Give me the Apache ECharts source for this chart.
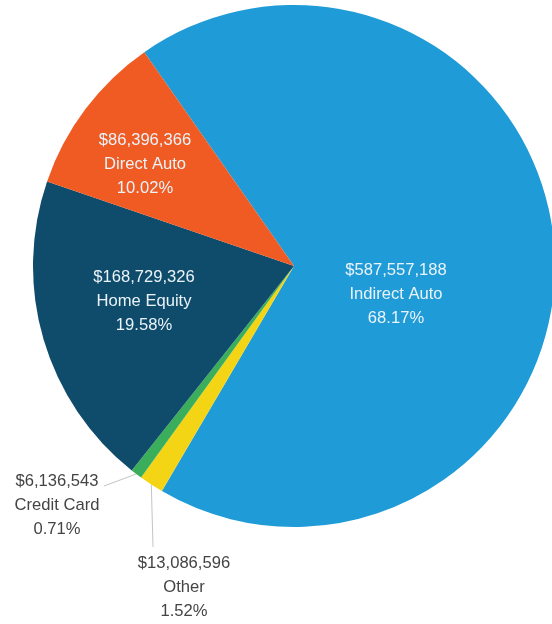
<!DOCTYPE html>
<html>
<head>
<meta charset="utf-8">
<title>Loan Portfolio</title>
<script src="https://cdn.jsdelivr.net/npm/echarts@6/dist/echarts.min.js"></script>
<style>
  html, body { margin: 0; padding: 0; background: #ffffff; }
  #chart { width: 552px; height: 624px; }
</style>
</head>
<body>
<div id="chart"></div>
<script>
// Portfolio balances by loan type (clockwise from the top-left edge)
const categories = ['Indirect Auto', 'Other', 'Credit Card', 'Home Equity', 'Direct Auto'];
const balances = [587557188, 13086596, 6136543, 168729326, 86396366];

const sliceColors = ['#1f9bd7', '#f4d515', '#3bae5b', '#0f4b6a', '#f05a23'];

// Label anchors (centre of each three-line label) and outside leader-line ends
const labelPlacement = {
  'Indirect Auto': { x: 396, y: 294 },
  'Other':         { x: 184, y: 587, lineEnd: [153, 547] },
  'Credit Card':   { x: 57,  y: 505, lineEnd: [104, 486] },
  'Home Equity':   { x: 144, y: 301 },
  'Direct Auto':   { x: 145, y: 164 }
};

const outsideLabels = ['Other', 'Credit Card'];

function formatMoney(v) {
  return '$' + v.toString().replace(/\B(?=(\d{3})+(?!\d))/g, ',');
}

const seriesData = categories.map((name, i) => {
  const outside = outsideLabels.indexOf(name) >= 0;
  return {
    name: name,
    value: balances[i],
    itemStyle: { color: sliceColors[i] },
    label: outside
      ? { position: 'outside', color: '#444444' }
      : { position: 'inside', color: '#eaf3f9' },
    labelLine: { show: outside }
  };
});

const chart = echarts.init(document.getElementById('chart'), null, { renderer: 'canvas' });

chart.setOption({
  animation: false,
  backgroundColor: '#ffffff',
  series: [{
    type: 'pie',
    center: [294, 266],
    radius: 261,
    startAngle: 125,
    clockwise: true,
    avoidLabelOverlap: false,
    data: seriesData,
    itemStyle: { borderWidth: 0 },
    label: {
      show: true,
      fontFamily: '"Liberation Sans", Arial, sans-serif',
      fontSize: 16.6,
      lineHeight: 24,
      align: 'center',
      textBorderWidth: 0,
      formatter: p => formatMoney(p.value) + '\n' + p.name + '\n' + p.percent.toFixed(2) + '%'
    },
    labelLine: {
      length: 10,
      length2: 10,
      lineStyle: { color: '#c4c4c4', width: 1 }
    },
    emphasis: { disabled: true },
    labelLayout: function (params) {
      const name = categories[params.dataIndex];
      const place = labelPlacement[name];
      const out = { x: place.x, y: place.y, align: 'center', verticalAlign: 'middle' };
      if (place.lineEnd && params.labelLinePoints) {
        const start = params.labelLinePoints[0];
        out.labelLinePoints = [start, place.lineEnd, place.lineEnd];
      }
      return out;
    }
  }]
});
</script>
</body>
</html>
